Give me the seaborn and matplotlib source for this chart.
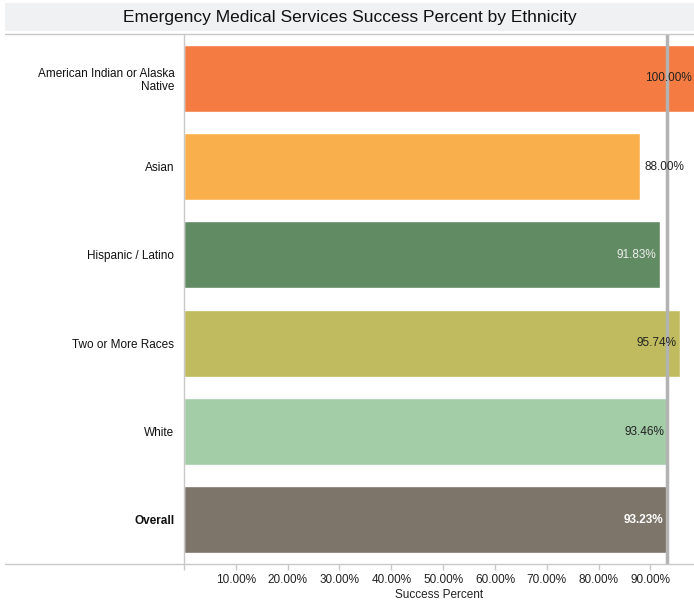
import matplotlib
matplotlib.use("Agg")
import matplotlib.pyplot as plt
import pandas as pd
import seaborn as sns
from matplotlib.lines import Line2D
from matplotlib.patches import Rectangle

# values
ethnicities = ["American Indian or Alaska\nNative", "Asian", "Hispanic / Latino",
               "Two or More Races", "White", "Overall"]
success_pct = [100.00, 88.00, 91.83, 95.74, 93.46, 93.23]
bar_colors = ["#F47C43", "#F9B04C", "#618B63", "#BFBB5E", "#A2CDA7", "#7E756A"]
label_colors = ["#222222", "#222222", "#EEEEEE", "#222222", "#222222", "#FFFFFF"]
x_ticks = [0, 10, 20, 30, 40, 50, 60, 70, 80, 90]

sns.set_theme(style="white")
plt.rcParams["font.family"] = ["Liberation Sans", "DejaVu Sans"]

df = pd.DataFrame({"ethnicity": ethnicities, "pct": success_pct})

fig = plt.figure(figsize=(6.94, 6.07), dpi=100)
W, H = 694, 607
ax = fig.add_axes([184 / W, (H - 564) / H, 1 - 184 / W, (564 - 34) / H])

sns.barplot(data=df, y="ethnicity", x="pct", hue="ethnicity", palette=bar_colors,
            orient="h", width=0.76, legend=False, saturation=1, ax=ax)

overall = success_pct[-1]
ax.axvline(overall, color="#b3b3b3", lw=2.5, zorder=5)

x_max = 98.4
ax.set_xlim(0, x_max)
ax.set_ylim(5.5, -0.5)

for i, (v, c) in enumerate(zip(success_pct, label_colors)):
    bold = "bold" if i == len(success_pct) - 1 else "normal"
    if v < 90:
        ax.text(v + 0.8, i, f"{v:.2f}%", ha="left", va="center", fontsize=8.5,
                color=c, zorder=6)
    else:
        ax.text(min(v, x_max - 0.2) - 0.8 + (0.6 if v > x_max else 0), i, f"{v:.2f}%",
                ha="right", va="center", fontsize=8.5,
                color=c, fontweight=bold, zorder=6, clip_on=False)

ax.set_xticks(x_ticks)
ax.set_xticklabels([""] + [f"{t:.2f}%" for t in x_ticks[1:]], fontsize=8.5, color="#222222")
ax.tick_params(axis="x", bottom=True, length=4, color="#c8c8c8", width=1, pad=3)
ax.tick_params(axis="y", left=False, pad=1)
for lab in ax.get_yticklabels():
    lab.set_fontsize(8.5)
    lab.set_color("#111111")
    lab.set_horizontalalignment("right")
ax.get_yticklabels()[-1].set_fontweight("bold")

ax.set_xlabel("Success Percent", fontsize=8.5, color="#222222", labelpad=2)
ax.set_ylabel("")

for side in ["top", "right", "bottom"]:
    ax.spines[side].set_visible(False)
ax.spines["left"].set_color("#c8c8c8")
ax.spines["left"].set_linewidth(1)

# title band and frame lines
fig.patches.append(Rectangle((5 / W, (H - 31) / H), 1 - 5 / W, 28 / H,
                             transform=fig.transFigure, facecolor="#f0f1f3",
                             edgecolor="none", zorder=0))
fig.text((5 + W) / 2 / W, (H - 17.5) / H,
         "Emergency Medical Services Success Percent by Ethnicity",
         ha="center", va="center", fontsize=12.5, color="#111111")
fig.add_artist(Line2D([5 / W, 1], [(H - 34) / H] * 2, color="#c8c8c8", lw=1))
fig.add_artist(Line2D([5 / W, 1], [(H - 564) / H] * 2, color="#c8c8c8", lw=1))

fig.savefig("out.png", dpi=100)
